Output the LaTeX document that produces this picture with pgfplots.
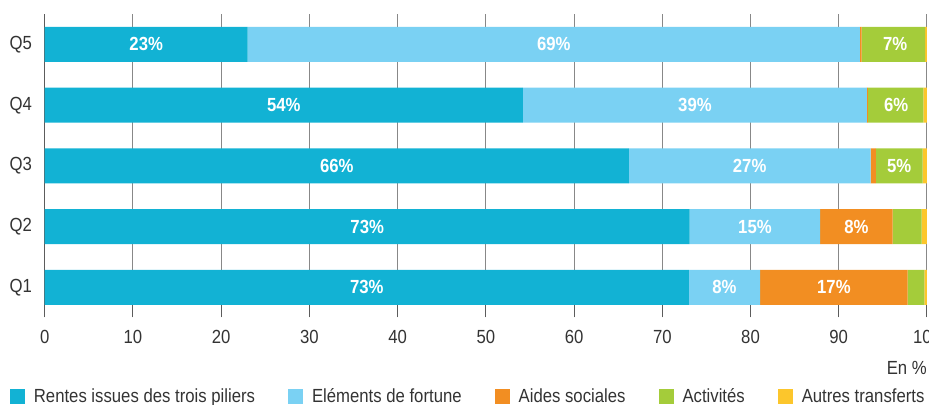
\documentclass[border=0pt]{standalone}
\usepackage{fontspec}
\setmainfont[FakeStretch=0.88]{Liberation Sans}
\usepackage{pgfplots}
\pgfplotsset{compat=1.18}
\definecolor{cRentes}{HTML}{12B2D4}
\definecolor{cFortune}{HTML}{7AD1F3}
\definecolor{cAides}{HTML}{F28E22}
\definecolor{cActiv}{HTML}{A4CC3A}
\definecolor{cAutres}{HTML}{FCC62C}
\definecolor{cText}{HTML}{333333}
\definecolor{cGrid}{HTML}{888888}
\newcommand{\fs}{\fontsize{19}{22}\selectfont}
\pgfplotsset{
  base/.style={
    scale only axis, width=882.3pt, height=291pt,
    xmin=0, xmax=100, ymin=0.712, ymax=5.502,
    clip=false,
  }
}
\begin{document}
\begin{tikzpicture}
\begin{axis}[base,
  xbar stacked, bar width=0.576, bar shift=0pt,
  /pgf/number format/assume math mode=true,
  axis x line*=bottom, axis y line*=left,
  x axis line style={draw=none},
  y axis line style={draw=cText!80, line width=1pt},
  xtick={0,10,...,100},
  xmajorgrids, major grid style={draw=cGrid, line width=1pt},
  tick align=outside, major tick length=12.5pt,
  xtick style={draw=cText!80, line width=1pt},
  ytick={1,2,3,4,5}, yticklabels={Q1,Q2,Q3,Q4,Q5},
  ytick style={draw=none},
  yticklabel style={inner sep=0pt, font=\fs, text=cText},
  xticklabel style={font=\fs, text=cText, yshift=-9pt},
  legend columns=5,
  legend image code/.code={\fill[#1] (0pt,-7.5pt) rectangle (15pt,7.5pt);},
  legend style={draw=none, fill=none, font=\fs, text=cText,
    at={(axis description cs:-0.0397,-0.313)}, anchor=west,
    inner xsep=0pt, inner ysep=0pt,
    /tikz/every even column/.append style={column sep=31pt},
    /tikz/every odd column/.append style={column sep=7pt}},
]
\addplot[fill=cRentes, draw=none] coordinates {(73.0,1) (73.1,2) (66.2,3) (54.2,4) (23.0,5)};
\addlegendentry{Rentes issues des trois piliers}
\addplot[fill=cFortune, draw=none] coordinates {(8.1,1) (14.8,2) (27.4,3) (39.0,4) (69.4,5)};
\addlegendentry{Eléments de fortune}
\addplot[fill=cAides, draw=none] coordinates {(16.7,1) (8.2,2) (0.6,3) (0.1,4) (0.2,5)};
\addlegendentry{Aides sociales}
\addplot[fill=cActiv, draw=none] coordinates {(1.9,1) (3.3,2) (5.3,3) (6.3,4) (7.2,5)};
\addlegendentry{Activités}
\addplot[fill=cAutres, draw=none] coordinates {(0.3,1) (0.6,2) (0.5,3) (0.4,4) (0.2,5)};
\addlegendentry{Autres transferts}
\node[anchor=east, font=\fs, text=cText, inner sep=0pt] at (axis description cs:1.0,-0.2165) {En \%};
\coordinate (BBa) at (axis description cs:-0.0507,1.048);
\coordinate (BBb) at (axis description cs:1.0023,-0.3436);
\end{axis}
\begin{axis}[base, hide axis]
\addplot[only marks, mark=none, nodes near coords, point meta=explicit symbolic,
  every node near coord/.style={anchor=center, text=white, font=\fs\bfseries}]
  coordinates {
  (11.5,5) [23\%] (57.7,5) [69\%] (96.4,5) [7\%]
  (27.1,4) [54\%] (73.7,4) [39\%] (96.5,4) [6\%]
  (33.1,3) [66\%] (79.9,3) [27\%] (96.85,3) [5\%]
  (36.55,2) [73\%] (80.5,2) [15\%] (92.0,2) [8\%]
  (36.5,1) [73\%] (77.05,1) [8\%] (89.45,1) [17\%]
  };
\end{axis}
\pgfresetboundingbox
\path[use as bounding box] (BBa) rectangle (BBb);
\end{tikzpicture}
\end{document}
